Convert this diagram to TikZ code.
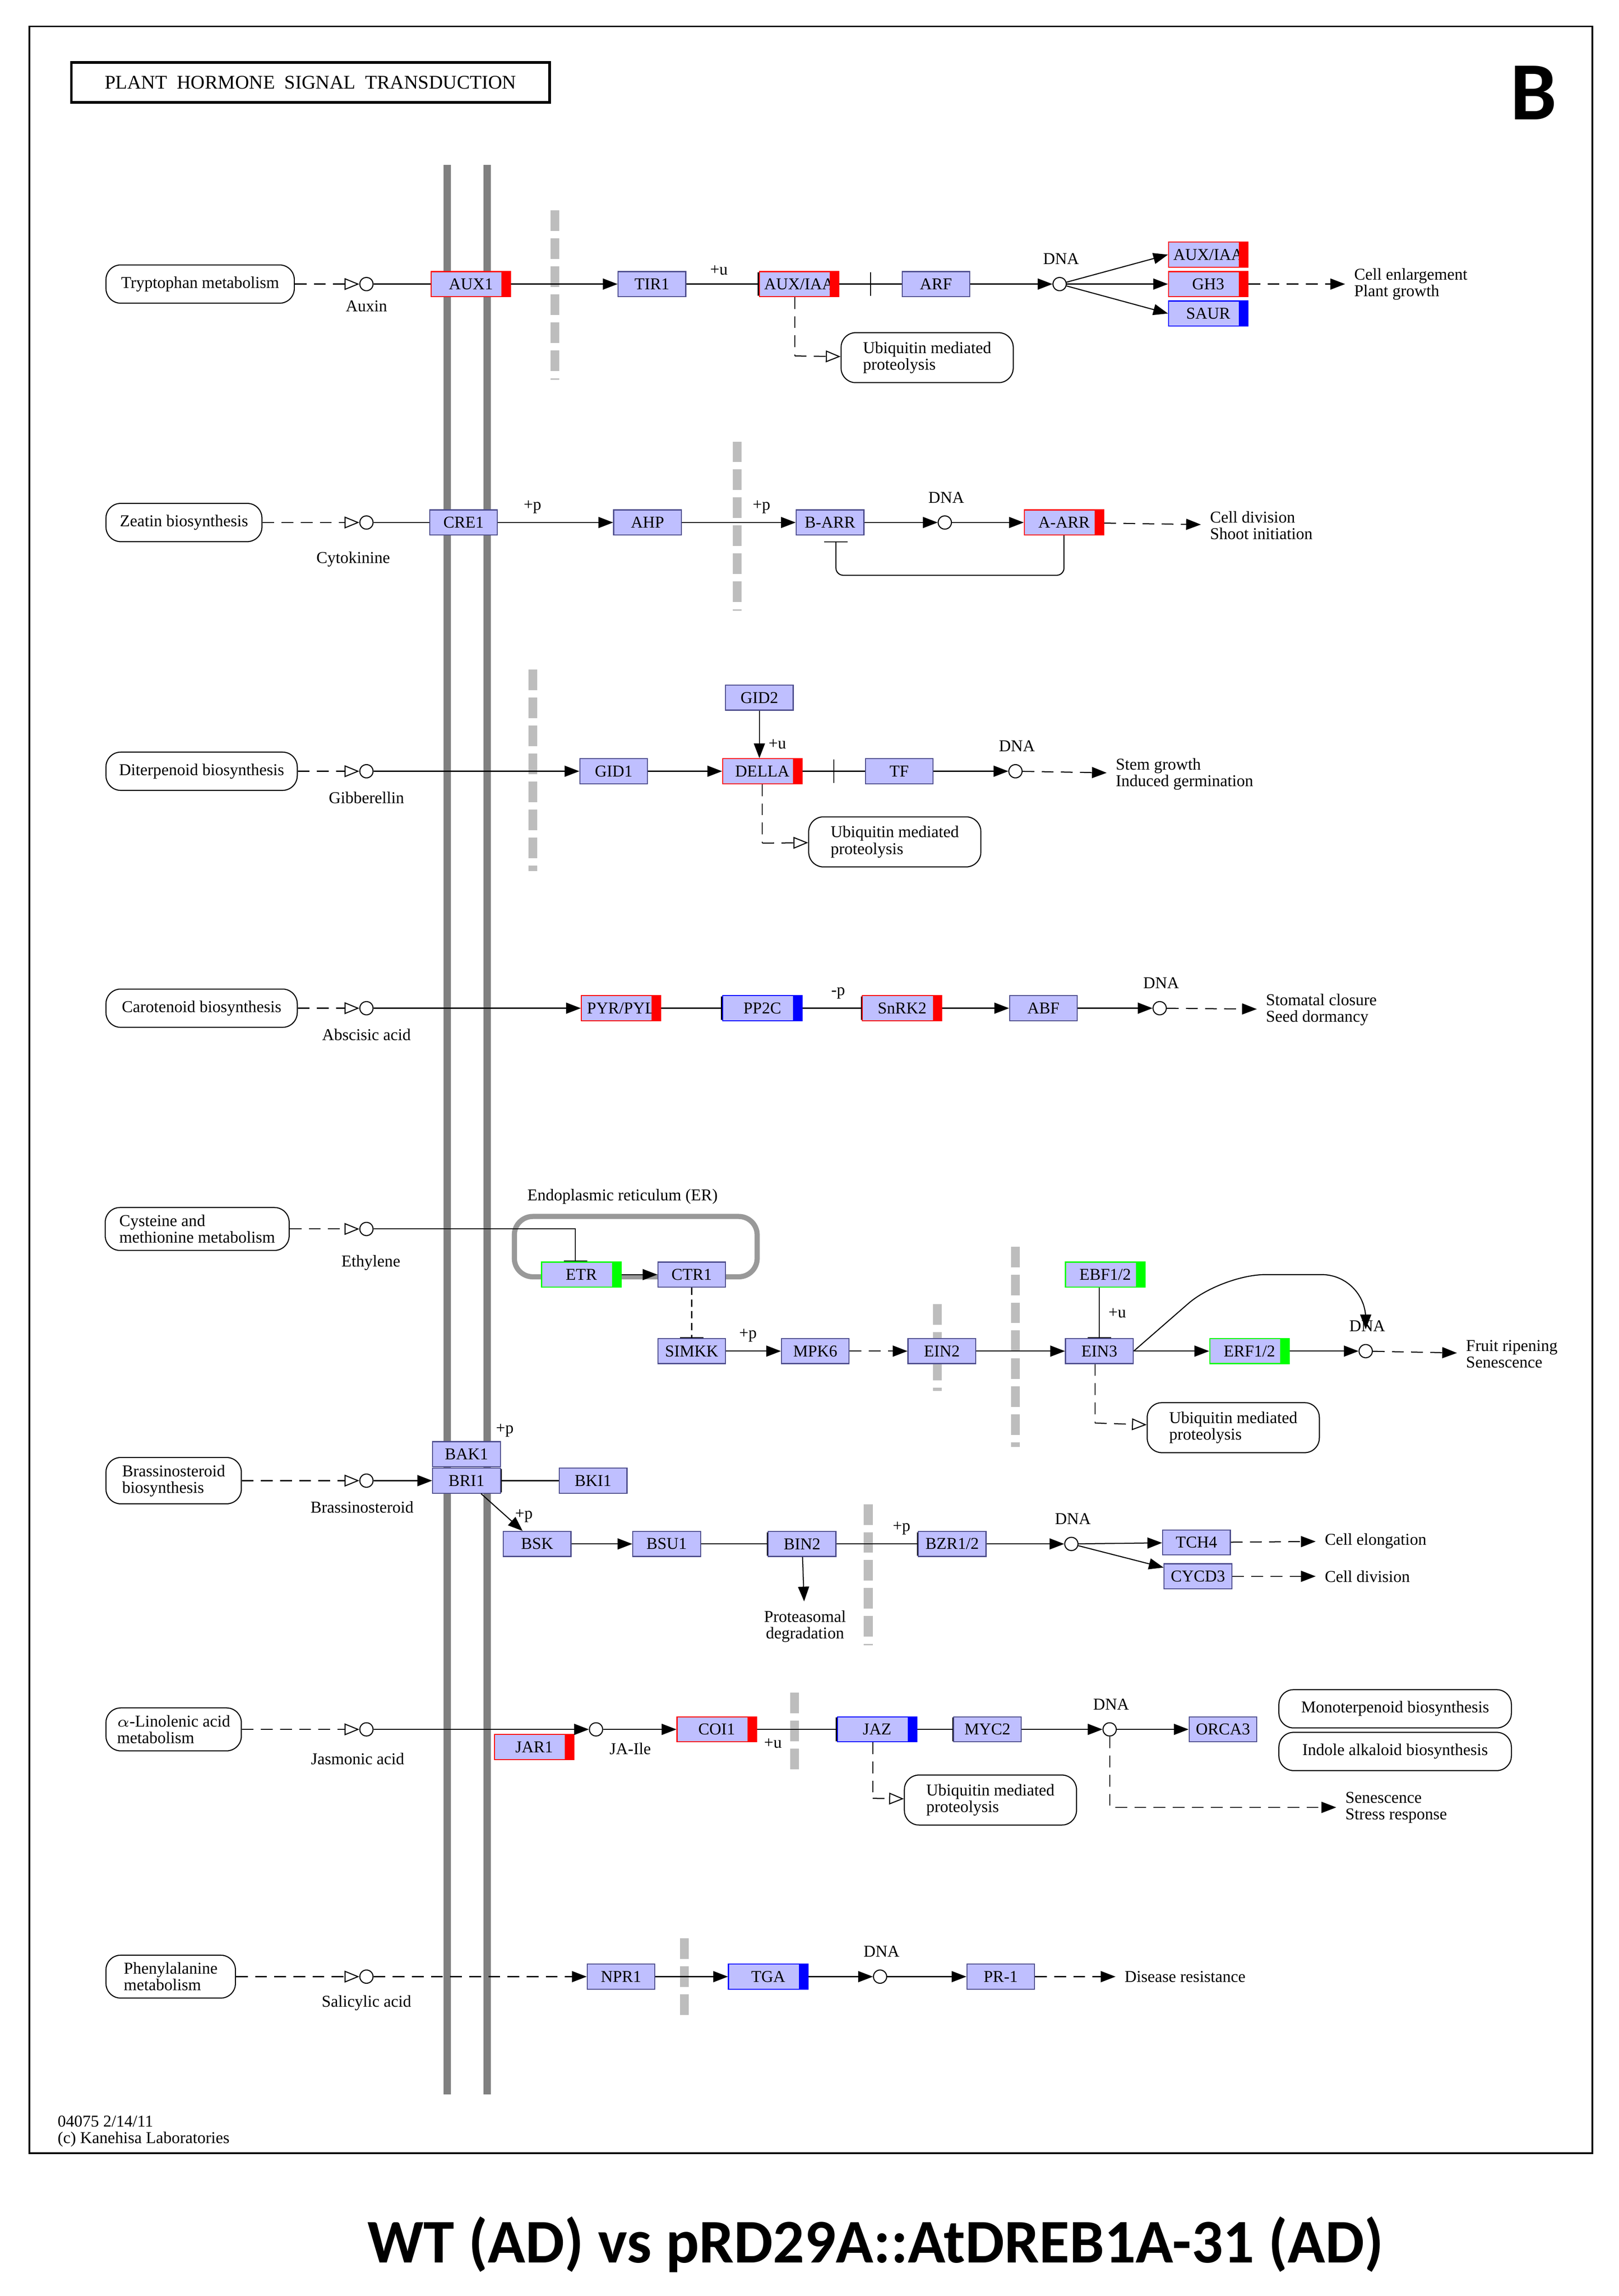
\documentclass[tikz,border=0pt]{standalone}
\usepackage{fontspec}
\usetikzlibrary{arrows.meta, positioning, calc}
\newfontfamily\capfont{Carlito}
\newfontfamily\keggfont{Liberation Serif}
\definecolor{kfill}{HTML}{BFBFFF}
\definecolor{kbd}{HTML}{4B4B8C}
\definecolor{kred}{HTML}{FF0000}
\definecolor{kblu}{HTML}{0000FF}
\definecolor{kgrn}{HTML}{00FF00}
\definecolor{mem}{HTML}{808080}
\definecolor{gbar}{HTML}{BDBDBD}
\tikzset{
  kt/.style={font=\keggfont\fontsize{6.4}{6.4}\selectfont},
  gene/.style={kt, rectangle, draw=kbd, fill=kfill, minimum width=0.92cm, minimum height=0.34cm, inner sep=0},
  wgene/.style={gene, minimum width=1.08cm},
  path/.style={kt, rectangle, draw, rounded corners=0.2cm, align=left, inner sep=0.1cm, minimum height=0.52cm},
  cpd/.style={circle, draw, fill=white, minimum size=0.18cm, inner sep=0},
  arrow/.style={-{Triangle[length=0.2cm,width=0.15cm]}},
  oarrow/.style={dash pattern=on 0.16cm off 0.1cm, -{Triangle[open,length=0.2cm,width=0.16cm]}},
  darrow/.style={dash pattern=on 0.16cm off 0.1cm, -{Triangle[length=0.2cm,width=0.15cm]}},
  inh/.style={-{Bar[width=0.32cm]}},
  ibar/.style={draw, minimum width=0, minimum height=0.32cm, inner sep=0},
  lab/.style={kt, align=left, anchor=west},
  membr/.style={mem, line width=0.1cm},
  gray bar/.style={gbar, line width=0.12cm, dash pattern=on 0.28cm off 0.1cm},
}
% gene box with coloured mark at its right end
\newcommand\gn[5]{%
  \node (#1) [wgene, draw=#4] at (#2) {\makebox[0.92cm]{#3}\hspace{0.16cm}};
  \fill[#5] ($(#1.north east)+(-0.13cm,-0.01cm)$) rectangle ($(#1.south east)+(-0.01cm,0.01cm)$);}
\begin{document}
\begin{tikzpicture}[x=0.02cm, y=-0.02cm]
\useasboundingbox (0,0) rectangle (1100,1560);
\draw[line width=0.6pt] (20,18) rectangle (1082,1463);
\node[draw, line width=1pt, kt, minimum width=6.5cm, minimum height=0.54cm, font=\keggfont\fontsize{7.5}{8}\selectfont] (title) at (211,56) {PLANT\ \ HORMONE\ \ SIGNAL\ \ TRANSDUCTION};
\node[font=\capfont\bfseries\fontsize{32}{32}\selectfont] (B) at (1042,63) {B};
\node[lab, align=left] (foot) at (33,1448) {04075 2/14/11\\(c) Kanehisa Laboratories};
\node[font=\capfont\bfseries\fontsize{24}{24}\selectfont] (cap) at (595,1525) {WT (AD) vs pRD29A::AtDREB1A-31 (AD)};

% membrane and gray bars
\draw[membr] (304,112) -- (304,1423);
\draw[membr] (331,112) -- (331,1423);
\foreach \x/\a/\b in {377/143/258, 501/300/415, 362/455/592, 637/886/945, 690/847/983, 590/1022/1118, 540/1150/1205, 465/1317/1372}
  \draw[gray bar] (\x,\a) -- (\x,\b);

% Row 1: auxin
\node (tryp) [path, minimum width=2.56cm] at (136,193) {Tryptophan metabolism};
\node (auxin) [cpd] at (249,193) {};
\node [kt] at (249,208) {Auxin};
\gn{aux1}{320,193}{AUX1}{kred}{kred}
\node (tir1) [gene] at (443,193) {TIR1};
\gn{auxiaa}{543,193}{AUX/IAA}{kred}{kred}
\node (arf) [gene] at (636,193) {ARF};
\node (dna1) [cpd] at (720,193) {};
\node [kt] at (721,176) {DNA};
\gn{auxiaa2}{821,173}{AUX/IAA}{kred}{kred}
\gn{gh3}{821,193}{GH3}{kred}{kred}
\gn{saur}{821,213}{SAUR}{kblu}{kblu}
\node (cell1) [lab] at (914,193) {Cell enlargement\\Plant growth};
\node (ubq1) [path, minimum width=2.34cm, minimum height=0.68cm] at (630,243) {Ubiquitin mediated\\proteolysis};
\draw[oarrow] (tryp) -- (auxin);
\draw (auxin) -- (aux1);
\draw[arrow] (aux1) -- (tir1);
\draw[inh] (tir1) -- node[kt, above, pos=.45] {+u} (auxiaa);
\draw (auxiaa) -- node[ibar] {} (arf);
\draw[arrow] (arf) -- (dna1);
\draw[arrow] (dna1) -- (auxiaa2.west);
\draw[arrow] (dna1) -- (gh3);
\draw[arrow] (dna1) -- (saur.west);
\draw[darrow] (gh3) -- (cell1);
\draw[dash pattern=on 0.16cm off 0.1cm] (auxiaa.south) ++(-3,0) |- ++(0,40) coordinate (u1);
\draw[oarrow] (u1) -- (ubq1);

% Row 2: cytokinine
\node (zeat) [path, minimum width=2.12cm] at (125,355) {Zeatin biosynthesis};
\node (cytok) [cpd] at (249,355) {};
\node [kt] at (240,380) {Cytokinine};
\node (cre1) [gene] at (315,355) {CRE1};
\node (ahp) [gene] at (440,355) {AHP};
\node (barr) [gene] at (564,355) {B-ARR};
\node (dna2) [cpd] at (642,355) {};
\node [kt] at (643,338) {DNA};
\gn{aarr}{723,355}{A-ARR}{kred}{kred}
\node (cell2) [lab] at (816,357) {Cell division\\Shoot initiation};
\draw[oarrow] (zeat) -- (cytok);
\draw (cytok) -- (cre1);
\draw[arrow] (cre1) -- node[kt, above, pos=.3] {+p} (ahp);
\draw[arrow] (ahp) -- node[kt, above, pos=.7] {+p} (barr);
\draw[arrow] (barr) -- (dna2);
\draw[arrow] (dna2) -- (aarr);
\draw[darrow] (aarr) -- (cell2);
\draw[inh, rounded corners=0.1cm] (aarr.south) -- ++(0,27) -| ($(barr.south)+(4,4)$);

% Row 3: gibberellin
\node (dite) [path, minimum width=2.6cm] at (137,524) {Diterpenoid biosynthesis};
\node (gib) [cpd] at (249,524) {};
\node [kt] at (249,542) {Gibberellin};
\node (gid1) [gene] at (417,524) {GID1};
\gn{della}{518,524}{DELLA}{kred}{kred}
\node (gid2) [gene] at (516,474) {GID2};
\node (tf) [gene] at (611,524) {TF};
\node (dna3) [cpd] at (690,524) {};
\node [kt] at (691,507) {DNA};
\node (stem) [lab] at (752,526) {Stem growth\\Induced germination};
\node (ubq2) [path, minimum width=2.34cm, minimum height=0.68cm] at (608,572) {Ubiquitin mediated\\proteolysis};
\draw[oarrow] (dite) -- (gib);
\draw[arrow] (gib) -- (gid1);
\draw[arrow] (gid1) -- (della);
\draw[arrow] (gid2) -- node[kt, right, pos=.7] {+u} (gid2 |- della.north);
\draw (della) -- node[ibar] {} (tf);
\draw[arrow] (tf) -- (dna3);
\draw[darrow] (dna3) -- (stem);
\draw[dash pattern=on 0.16cm off 0.1cm] (della.south) |- ++(0,40) coordinate (u2);
\draw[oarrow] (u2) -- (ubq2);

% Row 4: abscisic acid
\node (caro) [path, minimum width=2.6cm] at (137,685) {Carotenoid biosynthesis};
\node (aba) [cpd] at (249,685) {};
\node [kt] at (249,703) {Abscisic acid};
\gn{pyr}{422,685}{PYR/PYL}{kred}{kred}
\gn{pp2c}{518,685}{PP2C}{kblu}{kblu}
\gn{snrk}{613,685}{SnRK2}{kred}{kred}
\node (abf) [gene] at (709,685) {ABF};
\node (dna4) [cpd] at (788,685) {};
\node [kt] at (789,668) {DNA};
\node (stom) [lab] at (854,686) {Stomatal closure\\Seed dormancy};
\draw[oarrow] (caro) -- (aba);
\draw[arrow] (aba) -- (pyr);
\draw[inh] (pyr) -- (pp2c);
\draw[inh] (pp2c) -- node[kt, above, pos=.6] {-p} (snrk);
\draw[arrow] (snrk) -- (abf);
\draw[arrow] (abf) -- (dna4);
\draw[darrow] (dna4) -- (stom);

% Row 5: ethylene
\node (cyst) [path, minimum width=2.5cm] at (134,835) {Cysteine and\\methionine metabolism};
\node (eth) [cpd] at (249,835) {};
\node [kt] at (252,858) {Ethylene};
\node (er) [draw=gray!80, line width=2pt, rounded corners=0.25cm, minimum width=3.3cm, minimum height=0.82cm] at (432,847) {};
\node [kt] at (423,813) {Endoplasmic reticulum (ER)};
\gn{etr}{395,866}{ETR}{kgrn}{kgrn}
\node (ctr1) [gene] at (470,866) {CTR1};
\node (simkk) [gene] at (470,918) {SIMKK};
\node (mpk6) [gene] at (554,918) {MPK6};
\node (ein2) [gene] at (640,918) {EIN2};
\node (ein3) [gene] at (747,918) {EIN3};
\gn{ebf}{751,866}{EBF1/2}{kgrn}{kgrn}
\gn{erf}{849,918}{ERF1/2}{kgrn}{kgrn}
\node (dna5) [cpd] at (928,918) {};
\node [kt] at (929,901) {DNA};
\node (fruit) [lab] at (990,920) {Fruit ripening\\Senescence};
\node (ubq3) [path, minimum width=2.34cm, minimum height=0.68cm] at (838,970) {Ubiquitin mediated\\proteolysis};
\draw[oarrow] (cyst) -- (eth);
\draw[inh] (eth) -| ($(etr.north)+(-4,0)$);
\draw[arrow] (etr) -- (ctr1);
\draw[inh, dash pattern=on 0.1cm off 0.06cm] (ctr1) -- (simkk);
\draw[arrow] (simkk) -- node[kt, above, pos=.4] {+p} (mpk6);
\draw[darrow] (mpk6) -- (ein2);
\draw[arrow] (ein2) -- (ein3);
\draw[inh] (ebf.south -| ein3) -- node[kt, right, pos=.5] {+u} (ein3);
\draw[arrow] (ein3) -- (erf);
\draw[arrow] (erf) -- (dna5);
\draw[darrow] (dna5) -- (fruit);
\draw[arrow, rounded corners=0.6cm] (ein3.east) -- (830,866) -- (928,866) -- ($(dna5.north)+(0,-10)$);
\draw[dash pattern=on 0.16cm off 0.1cm] (ein3.south) ++(-3,0) |- ++(0,40) coordinate (u3);
\draw[oarrow] (u3) -- (ubq3);

% Row 6: brassinosteroid
\node (bras) [path, minimum width=1.84cm] at (118,1006) {Brassinosteroid\\biosynthesis};
\node (brs) [cpd] at (249,1006) {};
\node [kt] at (246,1024) {Brassinosteroid};
\node (bak1) [gene] at (317,988) {BAK1};
\node (bri1) [gene] at (317,1006) {BRI1};
\node (bki1) [gene] at (403,1006) {BKI1};
\node (bsk) [gene] at (365,1049) {BSK};
\node (bsu1) [gene] at (453,1049) {BSU1};
\node (bin2) [gene] at (545,1049) {BIN2};
\node (bzr) [gene] at (647,1049) {BZR1/2};
\node (dna6) [cpd] at (728,1049) {};
\node [kt] at (729,1032) {DNA};
\node (tch4) [gene] at (813,1048) {TCH4};
\node (cycd3) [gene] at (814,1071) {CYCD3};
\node (elong) [lab] at (894,1047) {Cell elongation};
\node (cdiv) [lab] at (894,1071) {Cell division};
\node (prot) [kt, align=center] at (547,1105) {Proteasomal\\degradation};
\node [kt] at (343,972) {+p};
\draw[oarrow] (bras) -- (brs);
\draw[arrow] (brs) -- (bri1);
\draw[inh] (bki1) -- (bri1);
\draw[arrow] (bri1) -- node[kt, right, pos=.6] {+p} (bsk);
\draw[arrow] (bsk) -- (bsu1);
\draw[inh] (bsu1) -- (bin2);
\draw[inh] (bin2) -- node[kt, above, pos=.8] {+p} (bzr);
\draw[arrow] (bzr) -- (dna6);
\draw[arrow] (dna6) -- (tch4);
\draw[arrow] (dna6) -- (cycd3);
\draw[darrow] (tch4) -- (elong);
\draw[darrow] (cycd3) -- (cdiv);
\draw[arrow] (bin2) -- (prot);

% Row 7: jasmonic acid
\node (lino) [path, minimum width=1.84cm] at (118,1175) {$\alpha$-Linolenic acid\\metabolism};
\node (ja) [cpd] at (249,1175) {};
\node [kt] at (243,1195) {Jasmonic acid};
\gn{jar1}{363,1187}{JAR1}{kred}{kred}
\node (jaile) [cpd] at (405,1175) {};
\node [kt, anchor=west] at (408,1188) {JA-Ile};
\gn{coi1}{487,1175}{COI1}{kred}{kred}
\gn{jaz}{596,1175}{JAZ}{kblu}{kblu}
\node (myc2) [gene] at (671,1175) {MYC2};
\node (dna7) [cpd] at (754,1175) {};
\node [kt] at (755,1158) {DNA};
\node (orca) [gene] at (831,1175) {ORCA3};
\node (mono) [path, minimum width=3.16cm] at (948,1161) {Monoterpenoid biosynthesis};
\node (indo) [path, minimum width=3.16cm] at (948,1190) {Indole alkaloid biosynthesis};
\node (sen) [lab] at (908,1228) {Senescence\\Stress response};
\node (ubq4) [path, minimum width=2.34cm, minimum height=0.68cm] at (673,1223) {Ubiquitin mediated\\proteolysis};
\draw[oarrow] (lino) -- (ja);
\draw[arrow] (ja) -- (jaile);
\draw[arrow] (jaile) -- (coi1);
\draw[inh] (coi1) -- node[kt, below, pos=.2] {+u} (jaz);
\draw[inh] (jaz) -- (myc2);
\draw[arrow] (myc2) -- (dna7);
\draw[arrow] (dna7) -- (orca);
\draw[darrow] (dna7) |- (sen);
\draw[dash pattern=on 0.16cm off 0.1cm] (jaz.south) ++(-3,0) |- ++(0,38) coordinate (u4);
\draw[oarrow] (u4) -- (ubq4);

% Row 8: salicylic acid
\node (phen) [path, minimum width=1.76cm] at (116,1343) {Phenylalanine\\metabolism};
\node (sa) [cpd] at (249,1343) {};
\node [kt] at (249,1361) {Salicylic acid};
\node (npr1) [gene] at (422,1343) {NPR1};
\gn{tga}{522,1343}{TGA}{kblu}{kblu}
\node (dna8) [cpd] at (598,1343) {};
\node [kt] at (599,1326) {DNA};
\node (pr1) [gene] at (680,1343) {PR-1};
\node (dis) [lab] at (758,1343) {Disease resistance};
\draw[oarrow] (phen) -- (sa);
\draw[darrow] (sa) -- (npr1);
\draw[arrow] (npr1) -- (tga);
\draw[arrow] (tga) -- (dna8);
\draw[arrow] (dna8) -- (pr1);
\draw[darrow] (pr1) -- (dis);
\end{tikzpicture}
\end{document}
